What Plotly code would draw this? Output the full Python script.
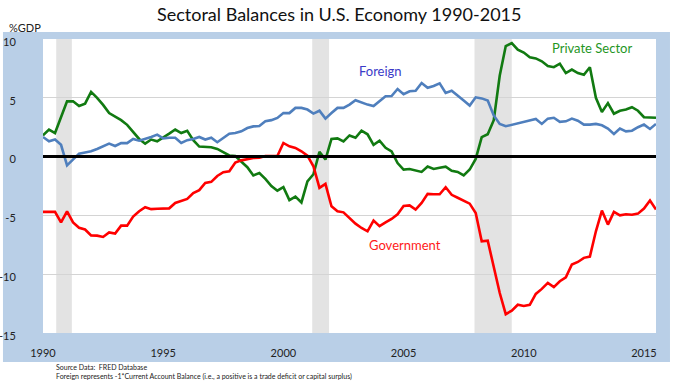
import plotly.graph_objects as go

# quarterly observations, 1990Q1 .. 2015Q3
start_year = 1990
n_quarters = 103

private_sector = [
    1.8, 2.3, 2.0, 3.3,
    4.7, 4.7, 4.3, 4.5,
    5.5, 5.0, 4.4, 3.7,
    3.4, 3.1, 2.7, 2.1,
    1.5, 1.1, 1.45, 1.3,
    1.6, 1.95, 2.3, 2.0,
    2.2, 1.4, 0.85, 0.85,
    0.8, 0.65, 0.4, 0.1,
    0.05, -0.45, -0.9, -1.6,
    -1.4, -1.9, -2.5, -2.9,
    -2.6, -3.7, -3.4, -3.9,
    -2.1, -1.5, 0.4, -0.25,
    1.5, 1.55, 1.3, 1.8,
    1.6, 2.2, 1.9, 1.0,
    1.35, 0.75, 0.45, -0.55,
    -1.1, -1.05, -1.15, -1.3,
    -0.85, -1.05, -0.95, -0.85,
    -1.2, -1.3, -1.6, -1.1,
    -0.2, 1.65, 1.9, 3.1,
    6.9, 9.4, 9.65, 9.1,
    8.85, 8.45, 8.35, 8.1,
    7.7, 7.6, 7.9, 7.1,
    7.4, 7.1, 6.95, 7.6,
    5.0, 3.8, 4.55, 3.65,
    3.9, 4.0, 4.2, 3.9,
    3.35, 3.3, 3.3,
]

foreign = [
    1.67, 1.3, 1.45, 1.0,
    -0.75, -0.25, 0.25, 0.35,
    0.45, 0.65, 0.9, 1.1,
    0.9, 1.15, 1.15, 1.5,
    1.35, 1.5, 1.67, 1.87,
    1.55, 1.6, 1.6, 1.16,
    1.4, 1.5, 1.67, 1.45,
    1.6, 1.22, 1.6, 1.95,
    2.0, 2.15, 2.43, 2.57,
    2.6, 3.0, 3.1, 3.29,
    3.7, 3.7, 4.14, 4.14,
    4.0, 3.66, 3.9, 3.23,
    3.7, 4.14, 4.14, 4.42,
    4.79, 4.6, 4.42, 4.3,
    4.7, 5.13, 5.15, 5.75,
    5.3, 5.55, 5.6, 6.26,
    5.85, 6.0, 6.23, 5.41,
    5.6, 5.15, 4.76, 4.34,
    5.04, 4.95, 4.76, 3.5,
    2.78, 2.58, 2.7, 2.85,
    2.95, 3.05, 3.2, 2.78,
    3.23, 3.3, 2.95, 3.0,
    3.23, 3.05, 2.72, 2.72,
    2.78, 2.66, 2.38, 1.93,
    2.38, 2.15, 2.2, 2.5,
    2.72, 2.35, 2.78,
]

government = [
    -4.7, -4.7, -4.7, -5.6,
    -4.65, -5.6, -6.05, -6.2,
    -6.7, -6.72, -6.83, -6.45,
    -6.55, -5.87, -5.87, -5.1,
    -4.65, -4.3, -4.47, -4.43,
    -4.4, -4.4, -3.94, -3.75,
    -3.6, -3.1, -2.85, -2.24,
    -2.15, -1.65, -1.33, -1.25,
    -0.5, -0.32, -0.2, -0.12,
    -0.1, 0.05, 0.05, 0.05,
    1.16, 0.87, 0.74, 0.45,
    0.08, -0.82, -2.66, -2.32,
    -4.22, -4.65, -4.74, -5.2,
    -5.7, -6.07, -6.35, -5.44,
    -5.92, -5.6, -5.3, -4.9,
    -4.2, -4.15, -4.5, -3.94,
    -3.17, -3.2, -3.2, -2.6,
    -3.25, -3.5, -3.73, -4.0,
    -4.79, -7.2, -7.15, -9.47,
    -11.6, -13.4, -13.1, -12.6,
    -12.7, -12.6, -11.68, -11.25,
    -10.74, -11.1, -10.6, -10.26,
    -9.18, -8.96, -8.61, -8.5,
    -6.35, -4.59, -5.78, -4.7,
    -5.0, -4.9, -4.95, -4.85,
    -4.42, -3.74, -4.5,
]

recessions = [(1990.55, 1991.2), (2001.2, 2001.9), (2007.95, 2009.5)]
x_ticks = [1990, 1995, 2000, 2005, 2010, 2015]
y_ticks = [10, 5, 0, -5, -10, -15]

dates = [start_year + q / 4 for q in range(n_quarters)]

FONT = "Lato, 'Open Sans', sans-serif"
PANEL = "#b9cfe7"

fig = go.Figure()
fig.add_trace(go.Scatter(x=dates, y=private_sector, mode="lines", name="Private Sector",
                         line=dict(color="#117a11", width=2.6)))
fig.add_trace(go.Scatter(x=dates, y=foreign, mode="lines", name="Foreign",
                         line=dict(color="#4f7fbd", width=2.6)))
fig.add_trace(go.Scatter(x=dates, y=government, mode="lines", name="Government",
                         line=dict(color="#ff0000", width=2.6)))

shapes = [
    dict(type="rect", xref="paper", yref="paper", x0=-0.0653, x1=1.0228, y0=-0.0986, y1=1.0238,
         fillcolor=PANEL, line=dict(width=0), layer="below"),
    dict(type="rect", xref="paper", yref="paper", x0=0, x1=1, y0=0, y1=1,
         fillcolor="white", line=dict(width=0), layer="below"),
]
for a, b in recessions:
    shapes.append(dict(type="rect", xref="x", yref="paper", x0=a, x1=b, y0=0, y1=1,
                       fillcolor="#e3e3e3", line=dict(width=0), layer="below"))
shapes.append(dict(type="line", xref="paper", yref="y", x0=0, x1=1, y0=0, y1=0,
                   line=dict(color="black", width=3), layer="above"))

annotations = [
    dict(text="Sectoral Balances in U.S. Economy 1990-2015", xref="paper", yref="paper",
         x=0.483, y=1.0, yshift=25, xanchor="center", yanchor="middle", showarrow=False,
         font=dict(family=FONT, size=18, color="#111")),
    dict(text="%GDP", xref="paper", yref="paper", x=-0.058, y=1.0, yshift=12,
         xanchor="left", yanchor="middle", showarrow=False,
         font=dict(family=FONT, size=11, color="#222")),
    dict(text="Foreign", xref="x", yref="y", x=2004.05, y=7.3, showarrow=False,
         xanchor="center", yanchor="middle", font=dict(family=FONT, size=13, color="#3b3bc8")),
    dict(text="Private Sector", xref="x", yref="y", x=2012.85, y=9.2, showarrow=False,
         xanchor="center", yanchor="middle", font=dict(family=FONT, size=13, color="#1f961f")),
    dict(text="Government", xref="x", yref="y", x=2005.05, y=-7.5, showarrow=False,
         xanchor="center", yanchor="middle", font=dict(family=FONT, size=13, color="#ff1a1a")),
    dict(text="Source Data:  FRED Database", xref="paper", yref="paper", x=0.018, y=0,
         yshift=-34, xanchor="left", yanchor="middle", showarrow=False,
         font=dict(family=FONT, size=7, color="#222")),
    dict(text="Foreign represents -1*Current Account Balance (i.e., a positive is a trade deficit or capital surplus)",
         xref="paper", yref="paper", x=0.018, y=0, yshift=-43, xanchor="left", yanchor="middle",
         showarrow=False, font=dict(family=FONT, size=7, color="#222")),
]

fig.update_layout(
    width=678, height=381,
    margin=dict(l=43, r=22, t=39, b=48, autoexpand=False),
    paper_bgcolor="white", plot_bgcolor="white",
    showlegend=False,
    shapes=shapes, annotations=annotations,
    xaxis=dict(range=[1990, 2015.5], tickvals=x_ticks, ticktext=[str(v) for v in x_ticks],
               showgrid=False, zeroline=False, showline=False, automargin=False,
               ticks="outside", ticklen=10, tickcolor="rgba(0,0,0,0)",
               tickfont=dict(family=FONT, size=11, color="#222")),
    yaxis=dict(range=[-15, 10], tickvals=y_ticks, ticktext=[str(v) for v in y_ticks],
               showgrid=True, gridcolor="#d4d4d4", gridwidth=1, zeroline=False, showline=False,
               automargin=False, ticklabelshift=3,
               ticks="outside", ticklen=24, tickcolor="rgba(0,0,0,0)",
               tickfont=dict(family=FONT, size=11, color="#222")),
)

fig.write_html("out.html", config={"displayModeBar": False},
               post_script="document.body.style.margin='0px';")
